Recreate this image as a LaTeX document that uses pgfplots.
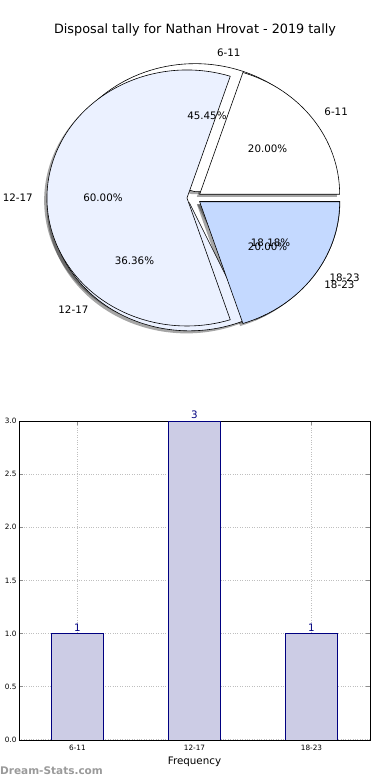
\documentclass[border=0pt]{standalone}
\usepackage{fontspec}
\setmainfont{DejaVu Sans}
\usepackage{pgfplots}
\pgfplotsset{compat=1.18}
\definecolor{wA}{HTML}{FFFFFF}
\definecolor{wB}{HTML}{EBF1FF}
\definecolor{wC}{HTML}{C4D9FF}
\definecolor{barfill}{HTML}{CCCCE5}
\definecolor{navy}{HTML}{000080}
\definecolor{wm}{HTML}{9A9A9A}
% wedge: cumulative start, cumulative end, total, style
\newcommand\piewedge[4]{%
  \filldraw[#4] ({0.05*cos(180*(#1+#2)/#3)},{0.05*sin(180*(#1+#2)/#3)})
   -- ({0.05*cos(180*(#1+#2)/#3)+cos(360*#1/#3)},{0.05*sin(180*(#1+#2)/#3)+sin(360*#1/#3)})
   arc[start angle={360*#1/#3}, end angle={360*#2/#3}, x radius=140pt, y radius=128pt] -- cycle;}
% labels: cumulative start, end, total, anchor, label, pct
\newcommand\pielabels[6]{%
  \node[anchor=#4, inner sep=0pt, font=\fontsize{10.3}{12}\selectfont] at ({1.15*cos(180*(#1+#2)/#3)},{1.15*sin(180*(#1+#2)/#3)}) {#5};
  \node[inner sep=0pt, font=\fontsize{10.3}{12}\selectfont] at ({0.65*cos(180*(#1+#2)/#3)},{0.65*sin(180*(#1+#2)/#3)}) {#6};}
\begin{document}
\begin{tikzpicture}
\useasboundingbox (0,0) rectangle (390pt,780pt);
\node[font=\fontsize{12.8}{15}\selectfont] at (195pt,750pt) {Disposal tally for Nathan Hrovat - 2019 tally};
% ---------------- pie ----------------
\begin{axis}[at={(194pt,582pt)}, anchor=origin, x=140pt, y=128pt,
  xmin=-1.3, xmax=1.3, ymin=-1.3, ymax=1.3, hide axis, clip=false]
\tikzset{shad/.style={fill=black, fill opacity=0.35, draw=none, xshift=-2.8pt, yshift=-2.56pt},
         wed/.style={fill=#1, draw=black, line width=0.6pt}}
% shadows (pie 1: 5,4,2 ; pie 2: 1,3,1)
\piewedge{0}{5}{11}{shad}
\piewedge{5}{9}{11}{shad}
\piewedge{9}{11}{11}{shad}
\piewedge{0}{1}{5}{shad}
\piewedge{1}{4}{5}{shad}
\piewedge{4}{5}{5}{shad}
% pie 1
\piewedge{0}{5}{11}{wed=wA}
\piewedge{5}{9}{11}{wed=wB}
\piewedge{9}{11}{11}{wed=wC}
% pie 2
\piewedge{0}{1}{5}{wed=wA}
\piewedge{1}{4}{5}{wed=wB}
\piewedge{4}{5}{5}{wed=wC}
% labels
\pielabels{0}{5}{11}{west}{6-11}{45.45\%}
\pielabels{5}{9}{11}{east}{12-17}{36.36\%}
\pielabels{9}{11}{11}{west}{18-23}{18.18\%}
\pielabels{0}{1}{5}{west}{6-11}{20.00\%}
\pielabels{1}{4}{5}{east}{12-17}{60.00\%}
\pielabels{4}{5}{5}{west}{18-23}{20.00\%}
\end{axis}
% ---------------- bars ----------------
\begin{axis}[at={(19pt,40pt)}, anchor=south west, scale only axis,
  width=351pt, height=319pt,
  xmin=-0.5, xmax=2.5, ymin=0, ymax=3,
  xtick={0,1,2}, xticklabels={6-11,12-17,18-23},
  ytick={0,0.5,1,1.5,2,2.5,3},
  /pgf/number format/assume math mode=true,
  y tick label style={/pgf/number format/fixed, /pgf/number format/fixed zerofill, /pgf/number format/precision=1, xshift=1pt},
  tick label style={font=\fontsize{7.3}{8}\selectfont},
  x tick label style={yshift=-1.5pt},
  tick align=inside, major tick length=4pt,
  tick style={black!45, line width=0.8pt},
  grid=major, grid style={dotted, line width=1pt, black!25},
  axis line style={black, line width=0.9pt},
  xlabel={Frequency}, xlabel style={font=\fontsize{10.3}{12}\selectfont, yshift=0pt},
  ]
\addplot[ybar, bar width=0.444, fill=barfill, draw=navy, line width=0.8pt,
  nodes near coords, nodes near coords style={text=navy, font=\fontsize{10.3}{12}\selectfont, inner sep=1.5pt}]
  coordinates {(0,1) (1,3) (2,1)};
\end{axis}
\node[anchor=west, inner sep=0pt, text=wm, font=\bfseries\fontsize{10.5}{12}\selectfont] at (0pt,9pt) {Dream-Stats.com};
\end{tikzpicture}
\end{document}
